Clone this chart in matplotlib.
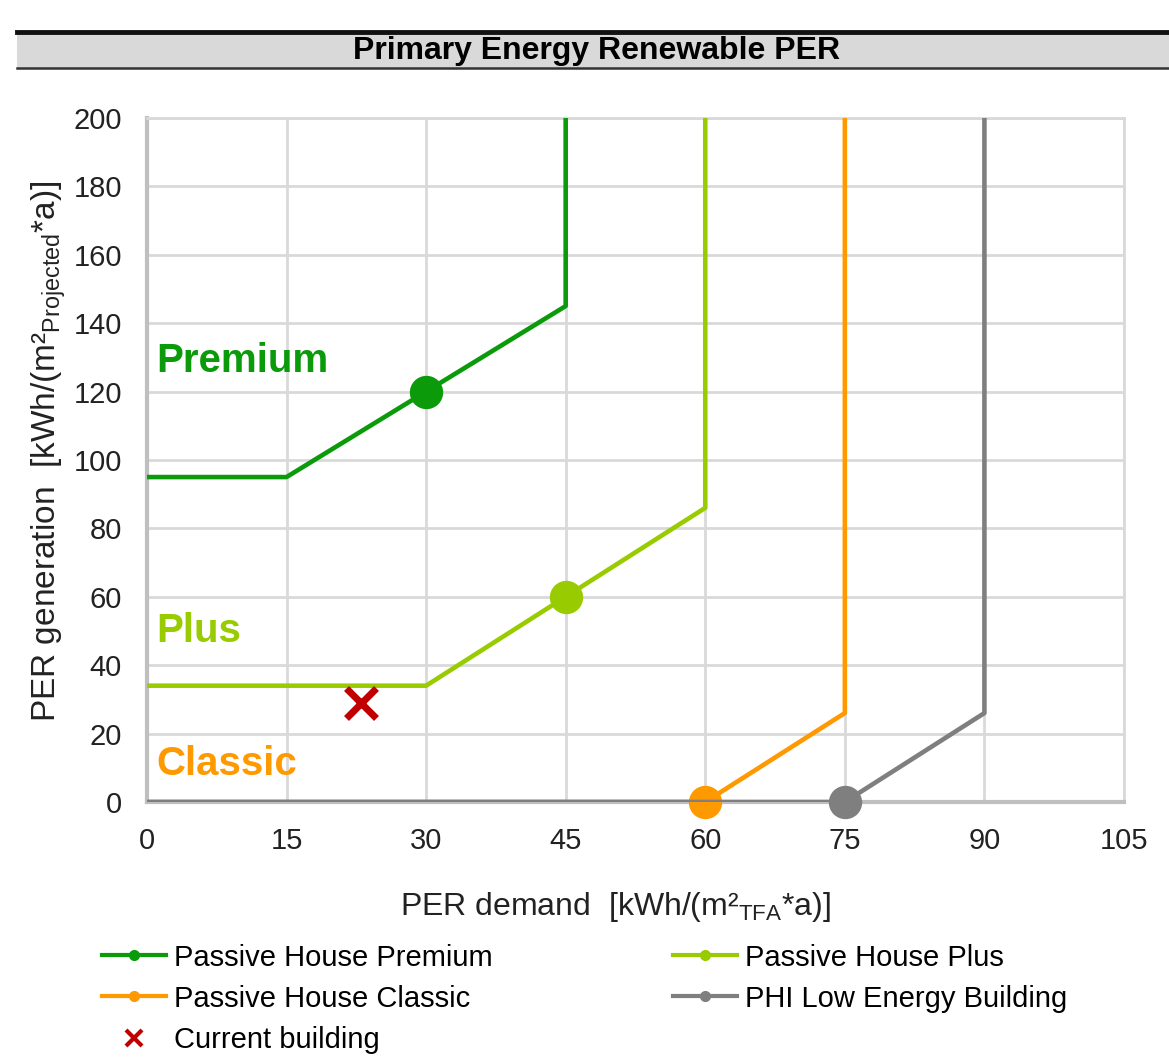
import matplotlib
matplotlib.use('Agg')
import matplotlib.pyplot as plt
from matplotlib.lines import Line2D
from matplotlib.patches import Rectangle

plt.rcParams['font.family'] = ['Liberation Sans', 'DejaVu Sans']
plt.rcParams['mathtext.fontset'] = 'custom'
plt.rcParams['mathtext.rm'] = 'Liberation Sans'

# PER demand / PER generation break points of each class boundary
premium_x = [0, 15, 30, 45, 45]
premium_y = [95, 95, 120, 145, 200]
plus_x = [0, 30, 45, 60, 60]
plus_y = [34, 34, 60, 86, 200]
classic_x = [0, 60, 75, 75]
classic_y = [0, 0, 26, 200]
low_x = [0, 75, 90, 90]
low_y = [0, 0, 26, 200]

# reference points drawn as big dots
dot_x = [30, 45, 60, 75]
dot_y = [120, 60, 0, 0]

current_x = [23]
current_y = [29]

names = ['Passive House Premium', 'Passive House Plus',
         'Passive House Classic', 'PHI Low Energy Building']
colors = ['#0A9A0A', '#99CC00', '#FF9900', '#7F7F7F']

fig = plt.figure(figsize=(11.69, 10.58), dpi=100)
ax = fig.add_axes([0.1257, 0.2420, 0.8358, 0.6465])

# title band
fig.patches.append(Rectangle((0.0145, 0.936), 0.99, 0.034, transform=fig.transFigure,
                             facecolor='#D9D9D9', edgecolor='none', zorder=0))
fig.add_artist(Line2D([0.0145, 1], [0.970, 0.970], color='#111111', lw=3.5,
                      transform=fig.transFigure))
fig.add_artist(Line2D([0.0145, 1], [0.936, 0.936], color='#333333', lw=1.8,
                      transform=fig.transFigure))
fig.text(0.51, 0.952, 'Primary Energy Renewable PER', ha='center', va='center',
         fontsize=23, fontweight='bold')

xs = [premium_x, plus_x, classic_x, low_x]
ys = [premium_y, plus_y, classic_y, low_y]
# each series drawn after the previous one, like the spreadsheet does
for i in range(4):
    ax.plot(xs[i], ys[i], color=colors[i], lw=3.3, zorder=3 + 2 * i)
    ax.plot(dot_x[i], dot_y[i], 'o', color=colors[i], ms=23, zorder=4 + 2 * i, clip_on=False)

ax.plot(current_x, current_y, 'x', color='#C00000', ms=22, mew=5, zorder=12)

ax.text(1.0, 129, 'Premium', color='#0A9A0A', fontsize=29, fontweight='bold', va='center')
ax.text(1.0, 50, 'Plus', color='#99CC00', fontsize=29, fontweight='bold', va='center')
ax.text(1.0, 11, 'Classic', color='#FF9900', fontsize=29, fontweight='bold', va='center')

ax.set_xlim(0, 105)
ax.set_ylim(0, 200)
ax.set_xticks(range(0, 106, 15))
ax.set_yticks(range(0, 201, 20))
ax.grid(True, color='#D9D9D9', lw=2)
ax.set_axisbelow(True)
for s in ['top', 'right']:
    ax.spines[s].set_color('#D9D9D9')
    ax.spines[s].set_linewidth(2)
ax.spines['left'].set_color('#BFBFBF')
ax.spines['left'].set_linewidth(3)
ax.spines['bottom'].set_color('#BFBFBF')
ax.spines['bottom'].set_linewidth(3)
ax.tick_params(length=0, labelsize=21, colors='#222222')
ax.tick_params(axis='x', pad=18)
ax.tick_params(axis='y', pad=18)

ax.set_xlabel(r'PER demand  [kWh/(m²$_{\mathrm{TFA}}$*a)]', fontsize=23, labelpad=25,
              color='#222222', x=0.48)
ax.set_ylabel(r'PER generation  [kWh/(m²$_{\mathrm{Projected}}$*a)]', fontsize=24, labelpad=4,
              color='#222222', y=0.512)

handles = [
    Line2D([], [], color=colors[0], lw=3, marker='o', ms=7),
    Line2D([], [], color=colors[2], lw=3, marker='o', ms=7),
    Line2D([], [], color='#C00000', lw=0, marker='x', ms=11, mew=3),
    Line2D([], [], color=colors[1], lw=3, marker='o', ms=7),
    Line2D([], [], color=colors[3], lw=3, marker='o', ms=7),
]
labels = [names[0], names[2], 'Current building', names[1], names[3]]
fig.legend(handles, labels, ncol=2, loc='upper left', bbox_to_anchor=(0.065, 0.133),
           frameon=False, fontsize=21, handlelength=2.2, handletextpad=0.25,
           columnspacing=6.2, labelspacing=0.45)

fig.savefig('out.png', dpi=100)
